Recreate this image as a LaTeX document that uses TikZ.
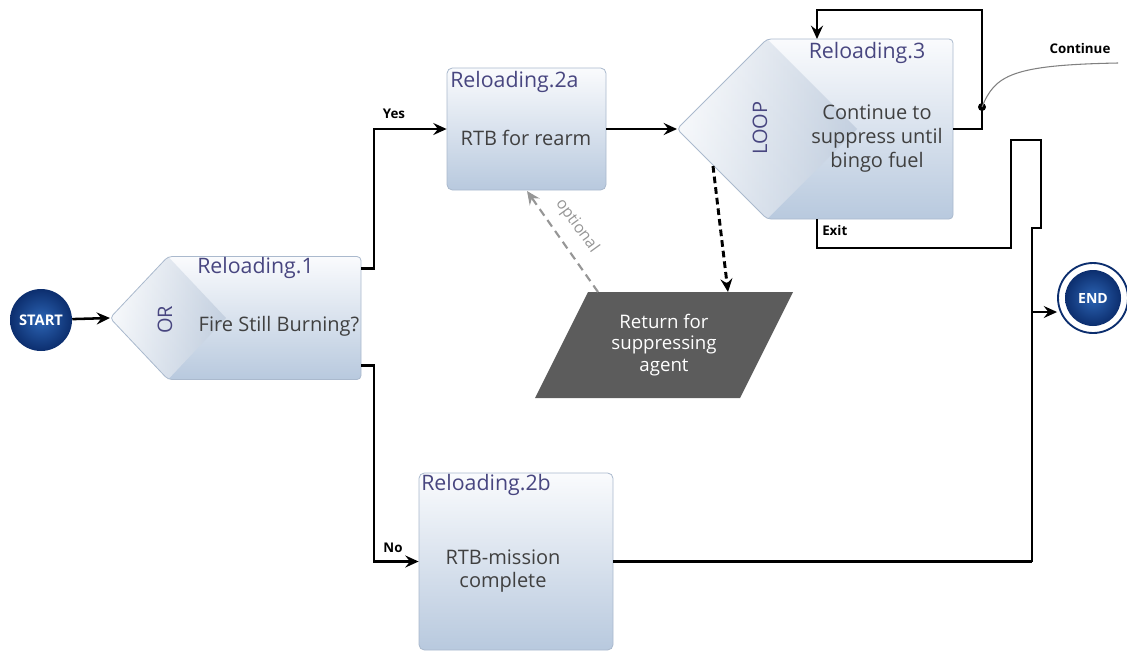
\documentclass[tikz,border=0pt]{standalone}
\usepackage{fontspec}
\setmainfont{Open Sans}
\usetikzlibrary{arrows.meta,calc}
\definecolor{titlec}{RGB}{72,70,128}
\definecolor{bodyc}{RGB}{64,64,64}
\definecolor{boxtop}{RGB}{250,251,253}
\definecolor{boxbot}{RGB}{184,201,222}
\definecolor{boxline}{RGB}{170,185,205}
\definecolor{navy}{RGB}{12,46,110}
\definecolor{navyl}{RGB}{44,100,180}
\definecolor{paraf}{RGB}{92,92,92}
\definecolor{wedgec}{RGB}{190,203,220}
\definecolor{optc}{RGB}{150,150,150}
\begin{document}
\begin{tikzpicture}[x=0.75pt,y=-0.75pt,
  conn/.style={line width=1.9pt, draw=black},
  tipA/.style={-{Stealth[length=10pt,width=9pt,inset=3.5pt]}},
  arr/.style={conn, tipA},
  shp/.style={draw=boxline, line width=0.6pt},
  box/.style={shp, rounded corners=4pt, top color=boxtop, bottom color=boxbot, inner sep=0pt},
  ghost/.style={inner sep=0pt, outer sep=0pt},
  ttl/.style={text=titlec, font=\fontsize{16}{18}\selectfont, inner sep=0pt},
  body/.style={text=bodyc, font=\fontsize{15}{18}\selectfont, align=center, inner sep=0pt},
  lbl/.style={font=\fontsize{10}{12}\selectfont\bfseries, inner sep=0pt},
  ball/.style={circle, inner color=navyl, outer color=navy, text=white, inner sep=0pt},
]
\useasboundingbox (0,0) rectangle (1127,651);

% START
\node[ball, minimum size=46.5pt, font=\fontsize{11}{13}\selectfont\bfseries] (start) at (41,320) {START};

% Reloading.1 (chevron)
\node[ghost, minimum width=188.25pt, minimum height=92.25pt] (r1) at (235.5,318) {};
\coordinate (r1tl) at ($(r1.north west)+(58,0)$);
\coordinate (r1bl) at ($(r1.south west)+(58,0)$);
\coordinate (r1apex) at ($(r1.west)+(116,0)$);
\path[top color=boxtop, bottom color=boxbot, rounded corners=3pt] (r1.west) -- (r1tl) -- (r1.north east) -- (r1.south east) -- (r1bl) -- cycle;
\path[left color=white, right color=wedgec, fill opacity=0.8] (r1.west) -- (r1tl) -- (r1apex) -- (r1bl) -- cycle;
\draw[shp, rounded corners=3pt] (r1.west) -- (r1tl) -- (r1.north east) -- (r1.south east) -- (r1bl) -- cycle;

% Reloading.2a
\node[box, minimum width=119.25pt, minimum height=91.5pt] (r2a) at (526.5,129) {};

% Reloading.3 (chevron)
\node[ghost, minimum width=207pt, minimum height=135pt] (r3) at (815,129) {};
\coordinate (r3tl) at ($(r3.north west)+(90,0)$);
\coordinate (r3bl) at ($(r3.south west)+(90,0)$);
\coordinate (r3apex) at ($(r3.west)+(180,0)$);
\path[top color=boxtop, bottom color=boxbot, rounded corners=3pt] (r3.west) -- (r3tl) -- (r3.north east) -- (r3.south east) -- (r3bl) -- cycle;
\path[left color=white, right color=wedgec, fill opacity=0.8] (r3.west) -- (r3tl) -- (r3apex) -- (r3bl) -- cycle;
\draw[shp, rounded corners=3pt] (r3.west) -- (r3tl) -- (r3.north east) -- (r3.south east) -- (r3bl) -- cycle;

% Reloading.2b
\node[box, minimum width=145.5pt, minimum height=132.75pt] (r2b) at (516,561.5) {};

% Parallelogram
\node[ghost, minimum width=193.5pt, minimum height=79.5pt] (para) at (664,345) {};
\path[fill=paraf] ($(para.north west)+(53,0)$) -- (para.north east) -- ($(para.south east)+(-53,0)$) -- (para.south west) -- cycle;
\node[text=white, font=\fontsize{14}{16}\selectfont, align=center, inner sep=0pt] (paratxt) at (para) {Return for\\suppressing\\agent};

% END
\node[circle, minimum size=52.5pt, draw=navy, line width=1.4pt, fill=white, inner sep=0pt] (endo) at (1093,298) {};
\node[ball, minimum size=42pt, font=\fontsize{10.5}{12}\selectfont\bfseries] (endc) at (endo) {END};

% Texts
\node[ttl, anchor=west] (t1) at (197,268) {Reloading.1};
\node[body, rotate=90, text=titlec] (t1or) at (165,320) {OR};
\node[body] (t1b) at (279,326) {Fire Still Burning?};
\node[ttl, anchor=west] (t2a) at (450,82) {Reloading.2a};
\node[body] (t2ab) at (526,138) {RTB for rearm};
\node[ttl] (t3) at (867,53) {Reloading.3};
\node[body, rotate=90, text=titlec] (t3loop) at (760,128) {LOOP};
\node[body] (t3b) at (877,139) {Continue to\\suppress until\\bingo fuel};
\node[ttl, anchor=west] (t2b) at (421,485) {Reloading.2b};
\node[body, font=\fontsize{15}{17}\selectfont] (t2bb) at (503,571) {RTB-mission\\complete};

% Connectors
\draw[arr] (start) -- (r1.west);
\draw[arr] ($(r1.north east)+(0,12)$) -- ++(13,0) |- (r2a.west);
\draw[arr] ($(r1.south east)+(0,-14)$) -- ++(13,0) |- (r2b.west);
\draw[arr] (r2a.east) -- (r3.west);

\coordinate (lpA) at (982,10);
\coordinate (r3top) at (817,39);
\draw[arr] (r3.east) -| (lpA) -| (r3top);
\coordinate (dot) at (982,107);
\fill (dot) circle (3pt);
\coordinate (cont) at (1118,63);
\draw[gray, line width=0.8pt] (dot) .. controls (995,75) and (1012,65) .. (cont);

\coordinate (r3bot) at (817,219);
\coordinate (jb) at (1032,561.5);
\draw[conn] (r3bot) |- (1011,248) |- (1041,140) |- (1032,228) -- (jb);
\draw[conn] (r2b.east) -- (jb);
\coordinate (jend) at (1032,312);
\draw[arr] (jend) -- (jend -| endo.west);

\coordinate (r3d) at (713,166);
\coordinate (pin) at (728,292);
\draw[conn, line width=2.2pt, dash pattern=on 5pt off 3pt, tipA] (r3d) -- (pin);
\coordinate (pout) at (598,292);
\coordinate (r2ain) at (527,191);
\draw[line width=1.6pt, optc, dash pattern=on 6pt off 4pt, tipA] (pout) -- (r2ain);
\node[text=optc, font=\fontsize{12}{14}\selectfont, inner sep=0pt, rotate=-54] (opt) at (577,226) {optional};

% Labels
\node[lbl] (yes) at (394,114) {Yes};
\node[lbl] (no) at (393,548) {No};
\node[lbl, anchor=west] (exit) at (822,230) {Exit};
\node[lbl] (contl) at (1080,48) {Continue};
\end{tikzpicture}
\end{document}
